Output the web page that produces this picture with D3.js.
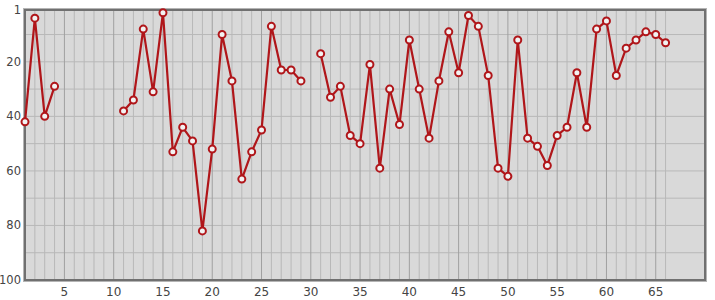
<!DOCTYPE html>
<html><head><meta charset="utf-8">
<script src="https://cdn.jsdelivr.net/npm/d3@7"></script>
<style>body{margin:0;background:#fff;}svg{display:block;font-family:"DejaVu Sans",sans-serif;}</style>
</head><body><div id="chart"></div>
<script>
const xs = d3.range(1, 67);
const ranks = [42,4,40,29,null,null,null,null,null,null,38,34,8,31,2,53,44,49,82,52,10,27,63,53,45,7,23,23,27,null,17,33,29,47,50,21,59,30,43,12,30,48,27,9,24,3,7,25,59,62,12,48,51,58,47,44,24,44,8,5,25,15,12,9,10,13];
const xTicks = [5,10,15,20,25,30,35,40,45,50,55,60,65];
const yTicks = [1,20,40,60,80,100];
const yGrid = [10,20,30,40,50,60,70,80,90];

const W = 715, H = 300;
const m = {l:25, r:10, t:10, b:20};
const svg = d3.select("#chart").append("svg").attr("width", W).attr("height", H);
const x = d3.scaleLinear().domain([1,70]).range([m.l, W - m.r]);
const y = d3.scaleLinear().domain([1,100]).range([m.t, H - m.b]);

svg.append("rect").attr("x", m.l-1.5).attr("y", m.t-1.5).attr("width", W-m.l-m.r+3).attr("height", H-m.t-m.b+3)
  .attr("fill","none").attr("stroke","#b4b4b4").attr("stroke-width",1);
svg.append("rect").attr("x", m.l).attr("y", m.t).attr("width", W-m.l-m.r).attr("height", H-m.t-m.b).attr("fill","#d9d9d9");

const g = svg.append("g");
g.selectAll("line.hg").data(yGrid).join("line")
  .attr("x1", m.l).attr("x2", W-m.r).attr("y1", d=>y(d)).attr("y2", d=>y(d))
  .attr("stroke","#b8b8b8").attr("stroke-width",1);
g.selectAll("line.vg").data(xs.filter(d=>d>1)).join("line")
  .attr("x1", d=>x(d)).attr("x2", d=>x(d)).attr("y1", m.t).attr("y2", H-m.b)
  .attr("stroke", d=> d%5===0 ? "#a0a0a0" : "#b8b8b8").attr("stroke-width",1);

svg.append("rect").attr("x", m.l).attr("y", m.t).attr("width", W-m.l-m.r).attr("height", H-m.t-m.b)
  .attr("fill","none").attr("stroke","#707070").attr("stroke-width",2);

svg.append("g").selectAll("text").data(xTicks).join("text")
  .attr("x", d=>x(d)).attr("y", H-4).attr("text-anchor","middle")
  .attr("font-size",12).attr("fill","#444").text(d=>d);
svg.append("g").selectAll("text").data(yTicks).join("text")
  .attr("x", m.l-4).attr("y", d=>y(d)+4).attr("text-anchor","end")
  .attr("font-size",11.5).attr("fill","#444").text(d=>d);

const data = xs.map((d,i)=>({x:d, v:ranks[i]}));
const line = d3.line().defined(d=>d.v!==null).x(d=>x(d.x)).y(d=>y(d.v));
svg.append("path").datum(data).attr("d", line).attr("fill","none")
  .attr("stroke","#b0161a").attr("stroke-width",2.2).attr("stroke-linejoin","round");
svg.append("g").selectAll("circle").data(data.filter(d=>d.v!==null)).join("circle")
  .attr("cx", d=>x(d.x)).attr("cy", d=>y(d.v)).attr("r",3.5)
  .attr("fill","#f2f2f2").attr("stroke","#b0161a").attr("stroke-width",2);
</script></body></html>
